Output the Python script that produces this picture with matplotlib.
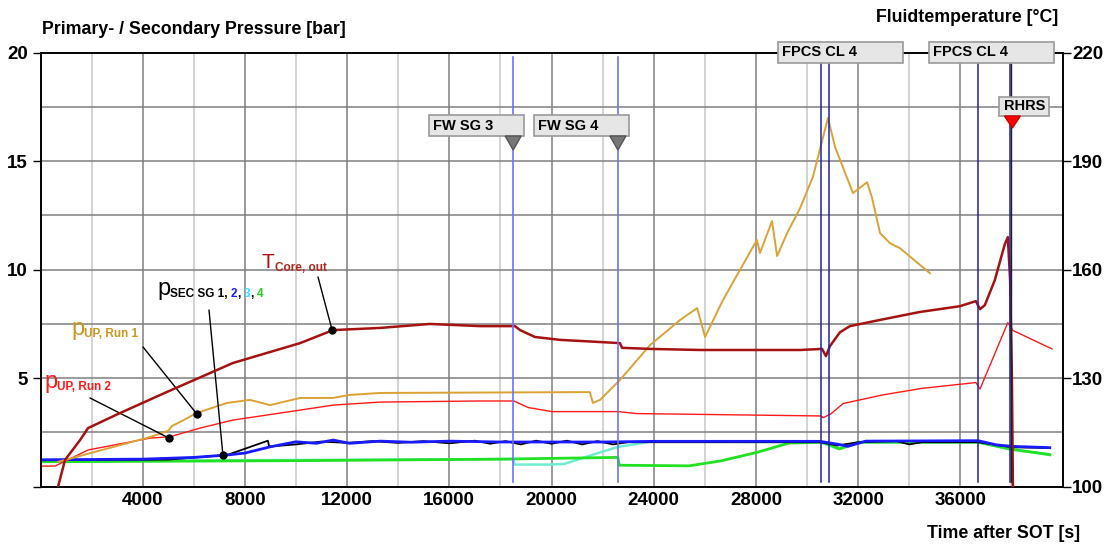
import matplotlib
matplotlib.use('Agg')
import matplotlib.pyplot as plt
from matplotlib.patches import Rectangle, Polygon
from matplotlib.transforms import IdentityTransform

plt.rcParams['font.family'] = ['Liberation Sans', 'DejaVu Sans']

# --- data -----------------------------------------------------------------
# core outlet temperature [degC] (right axis)
tcore_t = [650, 960, 1550, 1860, 3000, 4950, 7530, 10160, 11450, 13290, 15240, 17200,
           18570, 18770, 19350, 20330, 21900, 22680, 22760, 23860, 25820, 29730, 30590,
           30740, 30900, 31290, 31680, 32850, 34410, 35980, 36610, 36770, 36960, 37350,
           37740, 37860, 37950, 38020, 38060]
tcore_v = [99.0, 107.4, 112.9, 116.2, 120.0, 126.2, 134.2, 139.7, 143.3, 143.9, 145.0, 144.4,
           144.4, 143.3, 141.4, 140.6, 140.0, 139.7, 138.4, 138.1, 137.8, 137.8, 138.1,
           136.1, 138.9, 142.7, 144.4, 146.1, 148.3, 149.9, 151.3, 149.1, 150.2, 157.1,
           167.0, 169.0, 157.0, 130.0, 99.0]

# upper plenum pressure run 1 [bar]
pup1_t = [700, 4290, 4990, 5150, 5460, 6120, 7300, 8200, 8980, 10160, 11450, 12110, 13290,
          21500, 21620, 21900, 22680, 23860, 25030, 25700, 26010, 26710, 28040, 28160,
          28630, 28830, 29220, 29730, 30230, 30820, 31100, 31800, 32350, 32540, 32860,
          33250, 33640, 34810]
pup1_v = [1.15, 2.29, 2.57, 2.80, 2.98, 3.40, 3.86, 4.00, 3.76, 4.09, 4.09, 4.23, 4.32,
          4.36, 3.86, 4.00, 4.92, 6.53, 7.68, 8.23, 6.90, 8.60, 11.37, 10.77,
          12.24, 10.63, 11.68, 12.84, 14.27, 16.99, 15.65, 13.53, 14.03, 13.34, 11.68,
          11.22, 10.99, 9.84]

# upper plenum pressure run 2 [bar]
pup2_t = [0, 570, 1860, 4290, 5070, 6240, 7530, 10160, 11450, 13290, 17200, 18530, 19080,
          20020, 22620, 23330, 30550, 30630, 30940, 31410, 32920, 34490, 36610, 36770,
          37860, 38060, 39590]
pup2_v = [0.95, 0.95, 1.69, 2.24, 2.30, 2.70, 3.07, 3.53, 3.76, 3.90, 3.95, 3.95, 3.65,
          3.46, 3.46, 3.37, 3.26, 3.18, 3.36, 3.83, 4.22, 4.53, 4.80, 4.50,
          7.56, 7.20, 6.35]

# secondary pressures SG 1..4 [bar]
sg1_t = [0, 5000, 7300, 8900, 8950, 10000, 11000, 12000, 13000, 14000, 15000, 16000, 17000,
         17600, 18200, 18800, 19400, 20000, 20600, 21200, 21800, 22400, 23000, 30500, 31200,
         32000, 33500, 34000, 34500, 36700, 38000, 39500]
sg1_v = [1.22, 1.25, 1.46, 2.12, 1.85, 1.95, 2.08, 2.02, 2.10, 2.02, 2.10, 2.00, 2.12,
         1.98, 2.10, 1.95, 2.12, 1.98, 2.12, 1.95, 2.10, 1.95, 2.05, 2.05, 1.90,
         2.05, 2.10, 1.95, 2.05, 2.05, 1.82, 1.78]
sg2_t = [0, 4000, 6000, 7300, 8000, 9000, 10000, 10800, 11450, 12100, 13300, 14500, 16000,
         18000, 20000, 22000, 24000, 30500, 31200, 31600, 32300, 36700, 37400, 38000, 39500]
sg2_v = [1.24, 1.27, 1.35, 1.46, 1.55, 1.84, 2.07, 2.00, 2.15, 2.00, 2.10, 2.05, 2.10,
         2.06, 2.06, 2.06, 2.09, 2.09, 1.96, 1.86, 2.10, 2.12, 1.93, 1.86, 1.80]
sg3_t = [0, 18000, 18500, 18550, 20000, 20500, 21900, 22600, 23900, 30500, 31200, 32000,
         36700, 38000, 39500]
sg3_v = [1.18, 1.27, 1.27, 1.02, 1.02, 1.05, 1.58, 1.83, 2.08, 2.05, 1.75, 2.05,
         2.05, 1.70, 1.50]
sg4_t = [0, 10000, 18000, 22600, 22650, 25380, 26630, 28040, 29290, 30630, 31270, 32050,
         36690, 37940, 39510]
sg4_v = [1.15, 1.20, 1.27, 1.35, 0.99, 0.96, 1.19, 1.58, 2.01, 2.05, 1.74, 2.05,
         2.05, 1.74, 1.47]

# events
fw_times = [18500, 22600]
fw_labels = ['FW SG 3', 'FW SG 4']
fpcs_times = [30560, 30870, 36700]
rhrs_times = [37940, 38000]

W, H = 1110, 546
fig = plt.figure(figsize=(W / 100, H / 100), dpi=100)
ax = fig.add_axes([40.5 / W, 1 - 486.7 / H, 1022 / W, 434 / H])
ax2 = ax.twinx()

ax.set_xlim(0, 40000)
ax.set_ylim(0, 20)
ax2.set_ylim(100, 220)

# grid
for x in range(2000, 40000, 2000):
    ax.axvline(x, color='#808080' if x % 4000 == 0 else '#c8c8c8', lw=1.1, zorder=0)
for y in [2.5, 5, 7.5, 10, 12.5, 15, 17.5]:
    ax.axhline(y, color='#808080', lw=1.1, zorder=0)

ax.set_xticks(range(4000, 40000, 4000))
ax.set_xticklabels([str(v) for v in range(4000, 40000, 4000)], fontsize=13.5, fontweight='bold')
ax.tick_params(axis='x', length=0, pad=4)
ax.set_yticks([0, 5, 10, 15, 20])
ax.set_yticklabels(['', '5', '10', '15', '20'], fontsize=13.5, fontweight='bold')
ax.tick_params(axis='y', length=6, width=1, direction='out', pad=3)
ax2.set_yticks([100, 130, 160, 190, 220])
ax2.set_yticklabels(['100', '130', '160', '190', '220'], fontsize=13.5, fontweight='bold')
ax2.tick_params(axis='y', length=6, width=1, direction='out', pad=1)
for a in (ax, ax2):
    for s in a.spines.values():
        s.set_color('black')
        s.set_linewidth(1.2)

# curves
ax.plot(sg3_t, sg3_v, color='#70ecd0', lw=1.8, zorder=2)
ax.plot(sg4_t, sg4_v, color='#22e022', lw=2.0, zorder=2)
ax.plot(sg1_t, sg1_v, color='black', lw=1.3, zorder=2)
ax.plot(sg2_t, sg2_v, color='#1a1aff', lw=2.0, zorder=2)
ax.plot(pup2_t, pup2_v, color='#ff1a1a', lw=1.0, zorder=3)
ax.plot(pup1_t, pup1_v, color='#dba236', lw=1.4, zorder=3)
ax2.plot(tcore_t, tcore_v, color='#a51212', lw=1.8, zorder=3)

# event lines
for t in fw_times:
    ax2.axvline(t, ymin=0.01, ymax=0.99, color='#7070ff', lw=1.2, zorder=6)
for t in fpcs_times:
    ax2.axvline(t, ymin=0.01, ymax=0.975, color='#2020b0', lw=1.1, zorder=6)
ax2.axvline(rhrs_times[0], ymin=0.01, ymax=0.975, color='#2020b0', lw=1.1, zorder=6)
ax2.axvline(rhrs_times[1], ymin=0.01, ymax=0.975, color='#202020', lw=1.0, zorder=6)

fig.canvas.draw()
rend = fig.canvas.get_renderer()


def xpix(t):
    return ax.transData.transform((t, 0))[0]


def box(x0, x1, py0, py1, label, ha='left'):
    r = Rectangle((x0, H - py1), x1 - x0, py1 - py0, transform=IdentityTransform(),
                  facecolor='#e6e6e6', edgecolor='#9a9a9a', lw=1.2, zorder=10)
    fig.add_artist(r)
    if ha == 'left':
        fig.text((x0 + 4) / W, 1 - (py0 + py1) / 2 / H, label, ha='left', va='center',
                 fontsize=10.5, fontweight='bold', zorder=11)
    else:
        fig.text((x0 + x1) / 2 / W, 1 - (py0 + py1) / 2 / H, label, ha='center', va='center',
                 fontsize=10.5, fontweight='bold', zorder=11)


def tri(xc, py0, py1, color, ec):
    p = Polygon([(xc - 8, H - py0), (xc + 8, H - py0), (xc, H - py1)], closed=True,
                transform=IdentityTransform(), facecolor=color, edgecolor=ec, lw=1, zorder=10)
    fig.add_artist(p)


for t, lab in zip(fw_times, fw_labels):
    ex = xpix(t)
    box(ex - 84, ex + 11, 115, 136, lab)
    tri(ex, 136, 150, '#777777', '#555555')

ex = xpix(fpcs_times[0])
box(ex - 43, ex + 82, 42, 63, 'FPCS CL 4')
ex = xpix(fpcs_times[2])
box(ex - 49, ex + 76, 42, 63, 'FPCS CL 4')
ex = xpix(rhrs_times[1])
box(ex - 12, ex + 38, 97, 116, 'RHRS', ha='center')
tri(ex + 1, 116, 128, '#ff0000', '#cc0000')

# axis titles
fig.text(42 / W, 1 - 30 / H, 'Primary- / Secondary Pressure [bar]', ha='left', va='center',
         fontsize=12.8, fontweight='bold')
fig.text(1058 / W, 1 - 17 / H, 'Fluidtemperature [°C]', ha='right', va='center',
         fontsize=12.8, fontweight='bold')
fig.text(1080 / W, 1 - 533 / H, 'Time after SOT [s]', ha='right', va='center',
         fontsize=12.8, fontweight='bold')


# curve labels built from pieces
def chain(px, py, pieces):
    x = px
    for s, size, color, weight, dy in pieces:
        tx = fig.text(x / W, 1 - (py + dy) / H, s, ha='left', va='baseline', fontsize=size,
                      color=color, fontweight=weight, zorder=8)
        x = tx.get_window_extent(rend).x1


chain(262, 268, [('T', 15, '#a51212', 'normal', 0),
                 ('Core, out', 8.5, '#b02a20', 'bold', 3)])
chain(157, 295, [('p', 17, 'black', 'normal', 0),
                 ('SEC SG 1, ', 8.5, 'black', 'bold', 2),
                 ('2', 8.5, '#1a1aff', 'bold', 2), (', ', 8.5, 'black', 'bold', 2),
                 ('3', 8.5, '#33e0ff', 'bold', 2), (', ', 8.5, 'black', 'bold', 2),
                 ('4', 8.5, '#22d022', 'bold', 2)])
chain(71, 335, [('p', 17, '#c8981e', 'normal', 0),
                ('UP, Run 1', 8.5, '#c8981e', 'bold', 2)])
chain(44, 388, [('p', 17, '#ff1a1a', 'normal', 0),
                ('UP, Run 2', 8.5, '#ff1a1a', 'bold', 2)])

# leader lines with dots
leaders = [(ax2, 11410, 143.4, 318, 277),
           (ax, 6120, 3.35, 143, 347),
           (ax, 5030, 2.24, 90, 398),
           (ax, 7140, 1.46, 209, 310)]
for a, xd, yd, lx, ly in leaders:
    a.annotate('', xy=(xd, yd), xytext=(lx, H - ly), textcoords='figure pixels',
               arrowprops=dict(arrowstyle='-', color='black', lw=1.0, shrinkA=0, shrinkB=0),
               zorder=8)
    a.plot(xd, yd, 'o', color='black', ms=5, zorder=9)

fig.savefig('out.png', dpi=100)
